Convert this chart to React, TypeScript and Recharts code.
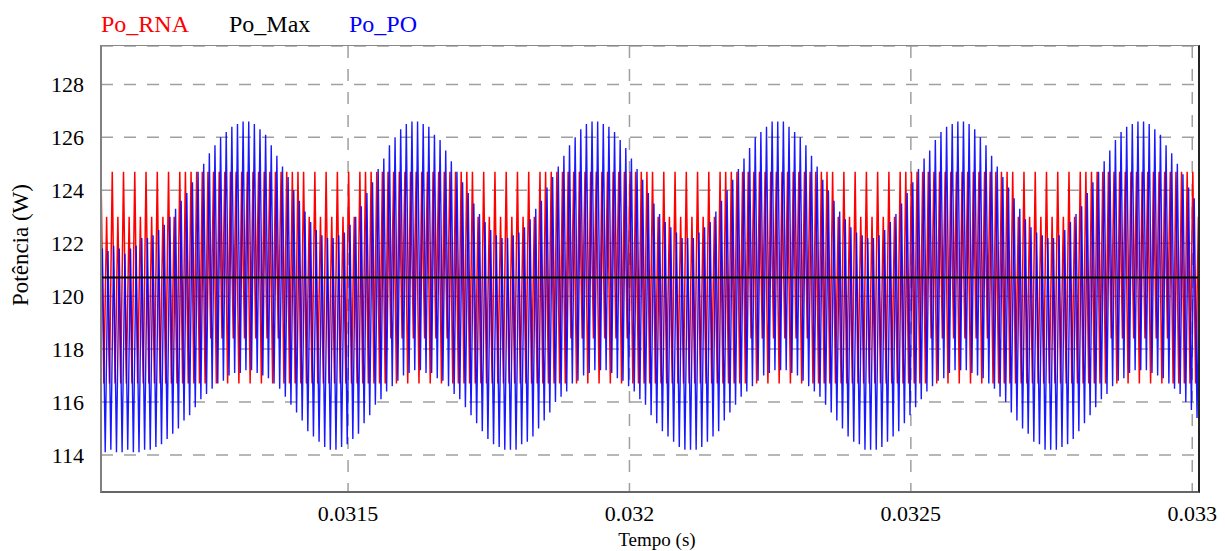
import { LineChart, Line, XAxis, YAxis, CartesianGrid } from 'recharts'

// time axis: first sample and half of one switching period (s)
const T0 = 0.031061
const T_END = 0.033012
const HALF = 0.000005

const xTicks = [0.0315, 0.032, 0.0325, 0.033]
const yTicks = [114, 116, 118, 120, 122, 124, 126, 128]

// Po_RNA: peak / valley of each switching cycle (W)
const rnaHigh = [
  124.7, 123.0, 124.7, 123.0, 124.7, 123.0, 124.7, 123.0, 124.7, 123.0,
  124.7, 123.0, 124.7, 123.0, 124.7, 124.7, 124.7, 124.7, 124.7, 124.7,
  124.7, 124.7, 124.7, 124.7, 124.7, 124.7, 124.7, 124.7, 124.7, 124.7,
  124.7, 124.7, 124.7, 124.7, 124.7, 124.7, 124.7, 123.0, 124.7, 123.0,
  124.7, 123.0, 124.7, 123.0, 124.7, 123.0, 124.7, 124.7, 124.7, 124.7,
  124.7, 124.7, 124.7, 124.7, 124.7, 124.7, 124.7, 124.7, 124.7, 124.7,
  124.7, 124.7, 124.7, 124.7, 124.7, 124.7, 124.7, 123.0, 124.7, 123.0,
  124.7, 123.0, 124.7, 123.0, 124.7, 123.0, 124.7, 123.0, 124.7, 124.7,
  124.7, 124.7, 124.7, 124.7, 124.7, 124.7, 124.7, 124.7, 124.7, 124.7,
  124.7, 124.7, 124.7, 124.7, 124.7, 124.7, 124.7, 124.7, 124.7, 123.0,
  124.7, 123.0, 124.7, 123.0, 124.7, 123.0, 124.7, 123.0, 124.7, 123.0,
  124.7, 124.7, 124.7, 124.7, 124.7, 124.7, 124.7, 124.7, 124.7, 124.7,
  124.7, 124.7, 124.7, 124.7, 124.7, 124.7, 124.7, 124.7, 124.7, 124.7,
  124.7, 123.0, 124.7, 123.0, 124.7, 123.0, 124.7, 123.0, 124.7, 123.0,
  124.7, 123.0, 124.7, 124.7, 124.7, 124.7, 124.7, 124.7, 124.7, 124.7,
  124.7, 124.7, 124.7, 124.7, 124.7, 124.7, 124.7, 124.7, 124.7, 124.7,
  124.7, 124.7, 124.7, 123.0, 124.7, 123.0, 124.7, 123.0, 124.7, 123.0,
  124.7, 123.0, 124.7, 123.0, 124.7, 124.7, 124.7, 124.7, 124.7, 124.7,
  124.7, 124.7, 124.7, 124.7, 124.7, 124.7, 124.7, 124.7, 124.7, 124.7,
  124.7, 124.7, 124.7, 124.7, 124.7, 123.0,
]
const rnaLow = [
  116.7, 116.7, 116.7, 116.7, 116.7, 116.7, 116.7, 116.7, 116.7, 116.7,
  116.7, 116.7, 116.7, 116.7, 116.7, 116.7, 116.7, 116.7, 116.7, 118.4,
  116.7, 118.4, 116.7, 118.4, 116.7, 118.4, 116.7, 118.4, 116.7, 118.4,
  116.7, 118.4, 116.7, 116.7, 116.7, 116.7, 116.7, 116.7, 116.7, 116.7,
  116.7, 116.7, 116.7, 116.7, 116.7, 116.7, 116.7, 116.7, 116.7, 116.7,
  116.7, 118.4, 116.7, 118.4, 116.7, 118.4, 116.7, 118.4, 116.7, 118.4,
  116.7, 118.4, 116.7, 116.7, 116.7, 116.7, 116.7, 116.7, 116.7, 116.7,
  116.7, 116.7, 116.7, 116.7, 116.7, 116.7, 116.7, 116.7, 116.7, 116.7,
  116.7, 116.7, 116.7, 118.4, 116.7, 118.4, 116.7, 118.4, 116.7, 118.4,
  116.7, 118.4, 116.7, 118.4, 116.7, 116.7, 116.7, 116.7, 116.7, 116.7,
  116.7, 116.7, 116.7, 116.7, 116.7, 116.7, 116.7, 116.7, 116.7, 116.7,
  116.7, 116.7, 116.7, 116.7, 116.7, 118.4, 116.7, 118.4, 116.7, 118.4,
  116.7, 118.4, 116.7, 118.4, 116.7, 118.4, 116.7, 116.7, 116.7, 116.7,
  116.7, 116.7, 116.7, 116.7, 116.7, 116.7, 116.7, 116.7, 116.7, 116.7,
  116.7, 116.7, 116.7, 116.7, 116.7, 116.7, 116.7, 118.4, 116.7, 118.4,
  116.7, 118.4, 116.7, 118.4, 116.7, 118.4, 116.7, 118.4, 116.7, 116.7,
  116.7, 116.7, 116.7, 116.7, 116.7, 116.7, 116.7, 116.7, 116.7, 116.7,
  116.7, 116.7, 116.7, 116.7, 116.7, 116.7, 116.7, 116.7, 116.7, 118.4,
  116.7, 118.4, 116.7, 118.4, 116.7, 118.4, 116.7, 118.4, 116.7, 118.4,
  116.7, 116.7, 116.7, 116.7, 116.7, 116.7,
]

// Po_PO: peak / valley of each switching cycle (W)
const poHigh = [
  121.8, 121.7, 121.9, 121.8, 121.6, 121.8, 121.9, 122.2, 122.2, 122.3,
  122.5, 122.7, 123.0, 123.3, 123.6, 123.9, 124.3, 124.7, 125.0, 125.4,
  125.7, 126.0, 126.2, 126.4, 126.5, 126.6, 126.6, 126.5, 126.3, 126.1,
  125.7, 125.3, 124.9, 124.5, 124.0, 123.6, 123.2, 122.8, 122.5, 122.3,
  122.2, 122.2, 122.3, 122.4, 122.7, 123.0, 123.4, 123.9, 124.3, 124.8,
  125.2, 125.7, 126.0, 126.3, 126.5, 126.6, 126.6, 126.5, 126.4, 126.1,
  125.9, 125.5, 125.1, 124.7, 124.3, 123.9, 123.5, 123.1, 122.8, 122.5,
  122.3, 122.2, 122.2, 122.3, 122.4, 122.6, 122.9, 123.3, 123.6, 124.1,
  124.5, 124.9, 125.3, 125.7, 126.0, 126.3, 126.5, 126.6, 126.6, 126.5,
  126.4, 126.2, 125.9, 125.6, 125.2, 124.8, 124.4, 123.9, 123.5, 123.1,
  122.8, 122.6, 122.4, 122.2, 122.2, 122.2, 122.4, 122.6, 122.8, 123.2,
  123.6, 124.0, 124.4, 124.8, 125.2, 125.6, 126.0, 126.2, 126.4, 126.6,
  126.6, 126.6, 126.4, 126.2, 126.0, 125.7, 125.3, 124.9, 124.4, 124.0,
  123.6, 123.2, 122.9, 122.6, 122.4, 122.3, 122.2, 122.2, 122.3, 122.5,
  122.8, 123.1, 123.5, 123.9, 124.3, 124.8, 125.2, 125.5, 125.9, 126.2,
  126.4, 126.5, 126.6, 126.6, 126.5, 126.3, 126.0, 125.7, 125.3, 124.9,
  124.5, 124.1, 123.7, 123.3, 122.9, 122.6, 122.4, 122.3, 122.2, 122.2,
  122.3, 122.5, 122.8, 123.1, 123.4, 123.9, 124.3, 124.7, 125.1, 125.5,
  125.9, 126.2, 126.4, 126.5, 126.6, 126.6, 126.5, 126.3, 126.1, 125.7,
  125.4, 125.0, 124.6, 124.1, 123.7, 123.3,
]
const poLow = [
  114.1, 114.2, 114.1, 114.1, 114.2, 114.1, 114.1, 114.2, 114.2, 114.3,
  114.4, 114.6, 114.8, 115.0, 115.3, 115.5, 115.8, 116.1, 116.3, 116.5,
  116.7, 116.8, 117.0, 117.1, 117.1, 117.2, 117.2, 117.1, 117.0, 116.9,
  116.7, 116.5, 116.2, 115.9, 115.6, 115.3, 114.9, 114.7, 114.5, 114.3,
  114.2, 114.2, 114.3, 114.4, 114.6, 114.8, 115.2, 115.5, 115.9, 116.1,
  116.4, 116.6, 116.8, 117.0, 117.1, 117.2, 117.2, 117.1, 117.1, 116.9,
  116.8, 116.6, 116.3, 116.1, 115.8, 115.5, 115.2, 114.9, 114.6, 114.4,
  114.3, 114.2, 114.2, 114.2, 114.4, 114.5, 114.7, 115.0, 115.3, 115.6,
  116.0, 116.2, 116.4, 116.7, 116.8, 117.0, 117.1, 117.2, 117.2, 117.2,
  117.1, 116.9, 116.8, 116.6, 116.4, 116.1, 115.9, 115.5, 115.2, 114.9,
  114.7, 114.5, 114.3, 114.2, 114.2, 114.2, 114.3, 114.5, 114.7, 114.9,
  115.3, 115.6, 115.9, 116.2, 116.4, 116.6, 116.8, 117.0, 117.1, 117.2,
  117.2, 117.2, 117.1, 117.0, 116.8, 116.6, 116.4, 116.2, 115.9, 115.6,
  115.3, 115.0, 114.7, 114.5, 114.4, 114.2, 114.2, 114.2, 114.3, 114.5,
  114.7, 114.9, 115.2, 115.5, 115.8, 116.1, 116.4, 116.6, 116.8, 116.9,
  117.1, 117.2, 117.2, 117.2, 117.1, 117.0, 116.9, 116.7, 116.5, 116.2,
  116.0, 115.6, 115.3, 115.0, 114.8, 114.5, 114.4, 114.2, 114.2, 114.2,
  114.3, 114.4, 114.6, 114.9, 115.2, 115.5, 115.8, 116.1, 116.3, 116.6,
  116.8, 116.9, 117.1, 117.2, 117.2, 117.2, 117.1, 117.0, 116.9, 116.7,
  116.5, 116.3, 116.0, 115.7, 115.4, 115.1,
]

// Po_Max: constant maximum power (W)
const poMax = [120.7, 120.7]

const FONT = '"Liberation Serif", "Times New Roman", Times, serif'

function toSeries(high: number[], low: number[], offset: number) {
  const pts: { t: number; v: number }[] = []
  high.forEach((h, k) => {
    pts.push({ t: T0 + offset + 2 * k * HALF, v: h })
    if (k < low.length) pts.push({ t: T0 + offset + (2 * k + 1) * HALF, v: low[k] })
  })
  return pts
}

const rnaData = toSeries(rnaHigh, rnaLow, 0)
const poData = toSeries(poHigh, poLow, HALF / 2)
const maxData = [
  { t: T0, v: poMax[0] },
  { t: T_END, v: poMax[1] },
]

const tickStyle = { fill: '#000', fontSize: 22, fontFamily: FONT, style: { fontFamily: FONT } }

export default function App() {
  return (
    <div
      style={{
        position: 'absolute',
        left: 0,
        top: 0,
        width: 1225,
        height: 551,
        background: '#fff',
        fontFamily: FONT,
      }}
    >
      <LineChart width={1225} height={551} margin={{ top: 46, right: 26, bottom: 0, left: 0 }} style={{ fontFamily: FONT }}>
        <CartesianGrid stroke="#a0a0a0" strokeWidth={1.5} strokeDasharray="12 11" />
        <XAxis
          type="number"
          dataKey="t"
          domain={[T0, T_END]}
          ticks={xTicks}
          allowDataOverflow
          height={59}
          axisLine={false}
          tickLine={false}
          tickSize={11}
          tickMargin={2}
          tickFormatter={(v: number) => String(v)}
          tick={tickStyle}
        />
        <YAxis
          type="number"
          domain={[112.6, 129.45]}
          ticks={yTicks}
          allowDataOverflow
          width={101}
          axisLine={false}
          tickLine={false}
          tickSize={15}
          tickMargin={2}
          tick={tickStyle}
        />
        <Line data={rnaData} dataKey="v" type="linear" stroke="#ff0000" strokeWidth={1.5} dot={false} isAnimationActive={false} />
        <Line data={poData} dataKey="v" type="linear" stroke="#0000ff" strokeWidth={1.4} strokeOpacity={0.9} dot={false} isAnimationActive={false} />
        <Line data={maxData} dataKey="v" type="linear" stroke="#000000" strokeWidth={2} dot={false} isAnimationActive={false} />
      </LineChart>
      {/* plot frame */}
      <div
        style={{
          position: 'absolute',
          left: 100,
          top: 45,
          width: 1100,
          height: 448,
          boxSizing: 'border-box',
          borderTop: '1.5px solid #888',
          borderLeft: '2px solid #808080',
          borderRight: '2px solid #222',
          borderBottom: '2px solid #666',
          pointerEvents: 'none',
        }}
      />
      <svg width={1225} height={551} style={{ position: 'absolute', left: 0, top: 0, pointerEvents: 'none', fontFamily: FONT }}>
        <g fontSize={24}>
          <text x={101} y={32} fill="#ff0000">Po_RNA</text>
          <text x={229} y={32} fill="#000000">Po_Max</text>
          <text x={349} y={32} fill="#0000ff">Po_PO</text>
        </g>
        <text x={657} y={546} textAnchor="middle" fontSize={19} fill="#000">Tempo (s)</text>
        <text x={28} y={245} textAnchor="middle" fontSize={23} fill="#000" transform="rotate(-90, 28, 245)">
          Potência (W)
        </text>
      </svg>
    </div>
  )
}
